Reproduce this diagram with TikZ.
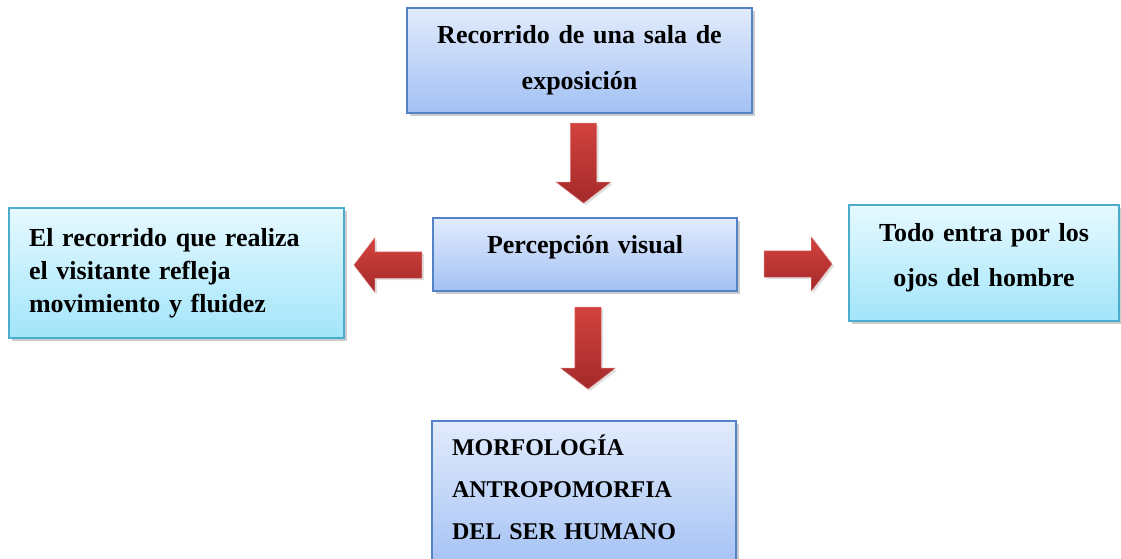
\documentclass[tikz,border=0pt]{standalone}
\usepackage{fontspec}
\setmainfont{Liberation Serif}
\usetikzlibrary{shapes.arrows,shadows}

\definecolor{bluetop}{HTML}{E1EBFC}
\definecolor{bluebot}{HTML}{A3C1F4}
\definecolor{blueline}{HTML}{5482C6}
\definecolor{cyantop}{HTML}{E6F9FF}
\definecolor{cyanbot}{HTML}{A2E5FA}
\definecolor{cyanline}{HTML}{4BADCB}
\definecolor{redtop}{HTML}{D2423E}
\definecolor{redbot}{HTML}{A42A2A}

\begin{document}
\begin{tikzpicture}[x=1pt, y=-1pt,
  box/.style={draw=blueline, line width=1.2pt, top color=bluetop, bottom color=bluebot,
              drop shadow={shadow xshift=2.5pt, shadow yshift=-3pt, opacity=.4},
              inner sep=0pt, font=\bfseries\fontsize{26}{46}\selectfont},
  cyanbox/.style={box, draw=cyanline, top color=cyantop, bottom color=cyanbot},
  blockarrow/.style={single arrow, draw=redtop!70!white, line width=.4pt,
              top color=redtop, bottom color=redbot, inner sep=13pt,
              single arrow head extend=14pt, single arrow tip angle=105,
              drop shadow={shadow xshift=2pt, shadow yshift=-2pt, opacity=.25}}]
  \useasboundingbox (0,0) rectangle (1121,559);
  \clip (0,0) rectangle (1121,559);
  \node[box, minimum width=345pt, minimum height=105pt, text width=320pt, align=center]
    (recorrido) at (579.5,60.5) {Recorrido de una sala de\\exposición};
  \node[box, minimum width=304pt, minimum height=73pt, text width=290pt, align=center,
    text depth=19.6pt] (percepcion) at (585,254.5) {Percepción visual};
  \node[cyanbox, font=\bfseries\fontsize{26}{33}\selectfont, minimum width=335pt,
    minimum height=130pt, text width=295pt, align=left, text depth=71.6pt]
    (visitante) at (176.5,273) {El recorrido que realiza\\el visitante refleja\\movimiento y fluidez};
  \node[cyanbox, font=\bfseries\fontsize{26}{45}\selectfont, minimum width=270pt,
    minimum height=116pt, text width=240pt, align=center, text depth=60.6pt]
    (ojos) at (984,263) {Todo entra por los\\ojos del hombre};
  \node[box, font=\bfseries\fontsize{24}{42}\selectfont, minimum width=304pt,
    minimum height=150pt, text width=264pt, align=left, text depth=102pt]
    (morfologia) at (584,496) {MORFOLOGÍA\\ANTROPOMORFIA\\DEL SER HUMANO};
  \node[blockarrow, shape border rotate=270, minimum height=80pt] (a1) at (583.5,158) {};
  \node[blockarrow, shape border rotate=180, minimum height=68pt] (a2) at (393,265) {};
  \node[blockarrow, minimum height=68pt] (a3) at (793,264) {};
  \node[blockarrow, shape border rotate=270, minimum height=82pt] (a4) at (588,343) {};
\end{tikzpicture}
\end{document}
